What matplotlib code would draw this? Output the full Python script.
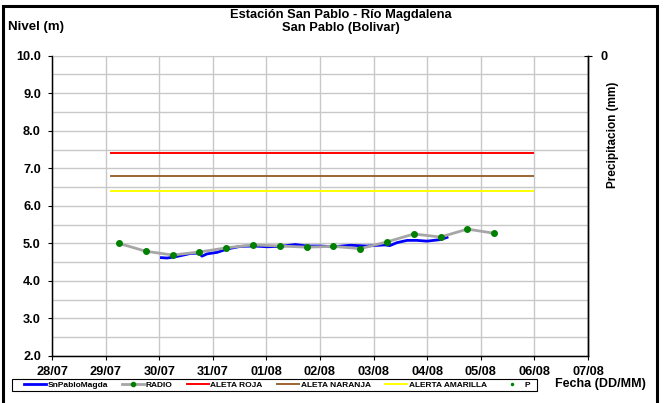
import pandas as pd
import matplotlib
matplotlib.use('Agg')
import matplotlib.pyplot as plt
import matplotlib.dates as mdates
from matplotlib.ticker import MultipleLocator, FormatStrFormatter
from matplotlib.lines import Line2D

plt.rcParams['font.family'] = ['Liberation Sans', 'DejaVu Sans']
plt.rcParams['font.weight'] = 'bold'

# --- data (hours counted from 28/07 00:00) ---
base = pd.Timestamp('2013-07-28 00:00')

sensor_hours = [49, 51.5, 54, 57.4, 61.9, 64.9, 66, 67.2, 69.4, 73.9, 78.4, 84.3, 90.3,
                96.3, 102.2, 108.9, 114.2, 120.1, 126.1, 133.6, 141, 149, 151.2, 154.5,
                159, 163.4, 167.9, 173.9, 176.9]
sensor_level = [4.62, 4.61, 4.63, 4.67, 4.73, 4.74, 4.72, 4.66, 4.72, 4.76, 4.85, 4.92, 4.93,
                4.91, 4.92, 4.97, 4.93, 4.93, 4.91, 4.95, 4.93, 4.96, 4.94, 5.02,
                5.08, 5.08, 5.06, 5.10, 5.16]

radio_hours = [30, 42, 54, 66, 78, 90, 102, 114, 126, 138, 150, 162, 174, 186, 198]
radio_level = [5.00, 4.79, 4.69, 4.77, 4.88, 4.96, 4.93, 4.90, 4.92, 4.86, 5.04, 5.25,
               5.17, 5.38, 5.27]

alert_hours = [26.5, 215.5]
alerta_roja = 7.4
alerta_naranja = 6.8
alerta_amarilla = 6.4

precip_hours = []
precip_mm = []

day_ticks = pd.date_range('2013-07-28', '2013-08-07', freq='D')


def to_time(hours):
    return base + pd.to_timedelta(hours, unit='h')


fig = plt.figure(figsize=(6.64, 4.03), dpi=100)
W, H = 664, 403
ax = fig.add_axes([52 / W, 1 - 356 / H, (588 - 52) / W, (356 - 55.7) / H])

t_alert = to_time(alert_hours)
ax.plot(to_time(sensor_hours), sensor_level, color='#0000ff', lw=2.0, zorder=3,
        label='SnPabloMagda')
ax.plot(to_time(radio_hours), radio_level, color='#a6a6a6', lw=2.0, marker='o',
        ms=4, mfc='#008000', mec='#008000', zorder=4, label='RADIO')
ax.plot(t_alert, [alerta_roja] * 2, color='#ff0000', lw=1.4, zorder=2, label='ALETA ROJA')
ax.plot(t_alert, [alerta_naranja] * 2, color='#996633', lw=1.4, zorder=2,
        label='ALETA NARANJA')
ax.plot(t_alert, [alerta_amarilla] * 2, color='#ffff00', lw=1.4, zorder=2,
        label='ALERTA AMARILLA')

ax.set_xlim(day_ticks[0], day_ticks[-1])
ax.set_ylim(2.0, 10.0)
ax.set_xticks(day_ticks)
ax.xaxis.set_major_formatter(mdates.DateFormatter('%d/%m'))
ax.yaxis.set_major_locator(MultipleLocator(1.0))
ax.yaxis.set_minor_locator(MultipleLocator(0.5))
ax.yaxis.set_major_formatter(FormatStrFormatter('%.1f'))
ax.grid(which='both', axis='y', color='#c8c8c8', lw=1.0)
ax.grid(which='major', axis='x', color='#c8c8c8', lw=1.0)
ax.set_axisbelow(True)
ax.tick_params(axis='both', which='major', direction='out', length=3, width=0.8,
               labelsize=9.2, colors='black')
ax.tick_params(axis='y', which='major', pad=5)
ax.tick_params(axis='x', which='major', pad=4.5)
ax.tick_params(axis='y', which='minor', length=0)
for lab in ax.get_xticklabels() + ax.get_yticklabels():
    lab.set_fontweight('bold')
ax.spines['top'].set_color('#c8c8c8')
for s in ['left', 'bottom', 'right']:
    ax.spines[s].set_linewidth(1.0)

# precipitation axis (empty, reversed)
ax2 = ax.twinx()
ax2.plot(to_time(precip_hours), precip_mm, 'o', color='#008000', ms=1.5, label='P')
ax2.set_ylim(1, 0)
ax2.set_yticks([0])
ax2.tick_params(axis='y', direction='inout', length=6, width=0.8, pad=6, labelsize=9.2)
for lab in ax2.get_yticklabels():
    lab.set_fontweight('bold')
ax2.spines['top'].set_visible(False)
ax2.spines['right'].set_linewidth(1.0)

fig.text(341 / W, 1 - 15 / H, 'Estación San Pablo - Río Magdalena', ha='center',
         va='center', fontsize=9.3, fontweight='bold')
fig.text(341 / W, 1 - 28 / H, 'San Pablo (Bolivar)', ha='center', va='center',
         fontsize=9.3, fontweight='bold')
fig.text(8 / W, 1 - 27 / H, 'Nivel (m)', ha='left', va='center', fontsize=9.5,
         fontweight='bold')
fig.text(613 / W, 1 - 135 / H, 'Precipitacion (mm)', ha='center', va='center',
         rotation=90, fontsize=8.5, fontweight='bold')
fig.text(555 / W, 1 - 384 / H, 'Fecha (DD/MM)', ha='left', va='center', fontsize=9,
         fontweight='bold')

handles = ax.get_lines() + ax2.get_lines()
leg_handles = [Line2D([], [], color=h.get_color(), lw=h.get_linewidth(),
                      marker=h.get_marker(), ms=3 if h.get_label() == 'RADIO' else 1.5,
                      mfc=h.get_markerfacecolor(), mec=h.get_markeredgecolor(),
                      linestyle=h.get_linestyle())
               for h in handles]
leg = fig.legend(leg_handles, [h.get_label() for h in handles], ncol=6,
                 loc='center left', bbox_to_anchor=(24 / W, 1 - 391 / H, (530 - 24) / W, 12 / H),
                 mode='expand', prop={'weight': 'bold', 'size': 6},
                 frameon=False, borderpad=0.0,
                 handlelength=2.6, handletextpad=0.2, borderaxespad=0, columnspacing=1.0)
# legend frame
fig.add_artist(plt.Rectangle((12 / W, 1 - 391 / H), (537 - 12) / W, 12 / H,
                             transform=fig.transFigure, fill=False, lw=0.8,
                             edgecolor='black'))

# outer frame of the chart
fig.add_artist(plt.Rectangle((3 / W, -0.02), (657 - 3) / W, 1.02 - 5.5 / H,
                             transform=fig.transFigure, fill=False, lw=2.2,
                             edgecolor='black'))

fig.savefig('out.png', dpi=100)
